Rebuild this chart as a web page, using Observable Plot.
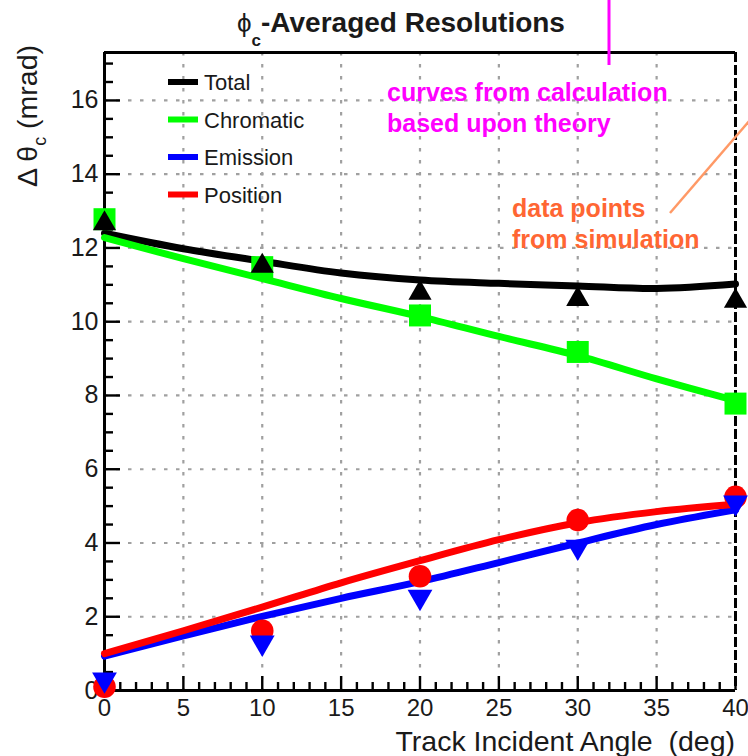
<!DOCTYPE html>
<html><head><meta charset="utf-8">
<script src="https://cdn.jsdelivr.net/npm/d3@7"></script>
<script src="https://cdn.jsdelivr.net/npm/@observablehq/plot@0.6"></script>
<style>body{margin:0;background:#fff}svg{overflow:visible}</style>
</head><body><div id="chart"></div>
<script>
// ---- data ----
const seriesNames = ["Total", "Chromatic", "Emission", "Position"];
const seriesColors = ["#000000", "#00ff00", "#0000ff", "#ff0000"];

// theory curves
const curveAngles = [0, 5, 10, 15, 20, 25, 30, 35, 40];
const totalCurve = [12.40, 11.98, 11.64, 11.32, 11.13, 11.04, 10.97, 10.90, 11.02];
const chromCurve = [12.28, 11.71, 11.17, 10.63, 10.14, 9.60, 9.08, 8.45, 7.86];
const emisCurve  = [0.93, 1.48, 2.01, 2.50, 2.95, 3.47, 4.00, 4.50, 4.90];
const posCurve   = [1.00, 1.62, 2.26, 2.92, 3.52, 4.09, 4.55, 4.85, 5.05];

// simulation points
const pointAngles = [0, 10, 20, 30, 40];
const totalPts = [12.75, 11.60, 10.87, 10.70, 10.65];
const chromPts = [12.78, 11.48, 10.17, 9.18, 7.78];
const emisPts  = [0.20, 1.20, 2.44, 3.80, 5.00];
const posPts   = [0.10, 1.62, 3.10, 4.62, 5.25];

// axes
const xTicks = [0, 5, 10, 15, 20, 25, 30, 35, 40];
const yTicks = [0, 2, 4, 6, 8, 10, 12, 14, 16];
const xDomain = [0, 40];
const yDomain = [0, 17.3];

// ---- build tables ----
const curveSets = [totalCurve, chromCurve, emisCurve, posCurve];
const curves = [];
curveSets.forEach((arr, i) => curveAngles.forEach((a, j) =>
  curves.push({series: seriesNames[i], angle: a, value: arr[j]})));
const pts = (arr) => pointAngles.map((a, j) => ({angle: a, value: arr[j]}));

// ---- geometry ----
const W = 748, H = 756;
const mL = 104, mR = 13, mT = 52, mB = 66;
const pxPerY = (H - mT - mB) / (yDomain[1] - yDomain[0]);
const pxPerX = (W - mL - mR) / (xDomain[1] - xDomain[0]);

// custom ROOT-like triangles (bbox-centred)
const triUp = {draw(ctx, size) {
  const a = Math.sqrt(4 * size / Math.sqrt(3)), h = a * Math.sqrt(3) / 2;
  ctx.moveTo(0, -h / 2); ctx.lineTo(a / 2, h / 2); ctx.lineTo(-a / 2, h / 2); ctx.closePath();
}};
const triDown = {draw(ctx, size) {
  const a = Math.sqrt(4 * size / Math.sqrt(3)), h = a * Math.sqrt(3) / 2;
  ctx.moveTo(0, h / 2); ctx.lineTo(a / 2, -h / 2); ctx.lineTo(-a / 2, -h / 2); ctx.closePath();
}};

const xMinor = d3.range(xDomain[0], xDomain[1] + 0.001, 1);
const yMinor = d3.range(0, 17.01, 0.5);
const gridX = xTicks.filter(d => d > 0 && d < 40);
const gridY = yTicks.filter(d => d > 0);

const font = "'Liberation Sans', Arial, Helvetica, sans-serif";

const chart = Plot.plot({
  width: W, height: H,
  marginLeft: mL, marginRight: mR, marginTop: mT, marginBottom: mB,
  style: {fontFamily: font, background: "#fff", overflow: "visible"},
  x: {domain: xDomain},
  y: {domain: yDomain},
  color: {domain: seriesNames, range: seriesColors},
  marks: [
    // grid
    Plot.ruleX(gridX, {stroke: "#a0a0a0", strokeWidth: 2.2, strokeDasharray: "3.5,8.5"}),
    Plot.ruleY(gridY, {stroke: "#a0a0a0", strokeWidth: 2.2, strokeDasharray: "3.5,8.5"}),
    // frame
    Plot.ruleY([yDomain[1]], {stroke: "#000", strokeWidth: 3}),
    Plot.ruleX([xDomain[1]], {stroke: "#000", strokeWidth: 3, strokeDasharray: "10,3"}),
    Plot.ruleX([xDomain[0]], {stroke: "#000", strokeWidth: 3}),
    Plot.ruleY([0], {stroke: "#000", strokeWidth: 3}),
    // inward ticks
    Plot.ruleX(xMinor, {x: d => d, y1: 0, y2: d => (d % 5 === 0 ? 14 : 8) / pxPerY, stroke: "#000", strokeWidth: 2.4}),
    Plot.ruleY(yMinor, {y: d => d, x1: 0, x2: d => (d % 2 === 0 ? 16 : 9) / pxPerX, stroke: "#000", strokeWidth: 2.4}),
    // axes labels
    Plot.axisX(xTicks, {tickSize: 0, tickPadding: 8, fontSize: 24, fill: "#1a1a1a", label: null}),
    Plot.axisY(yTicks, {tickSize: 0, tickPadding: 6, fontSize: 25, fill: "#1a1a1a", label: null}),
    // theory curves
    Plot.line(curves, {x: "angle", y: "value", z: "series", stroke: "series", strokeWidth: 7, curve: "catmull-rom"}),
    // simulation points
    Plot.dot(pts(chromPts), {x: "angle", y: "value", symbol: "square", r: 12.4, fill: seriesColors[1], stroke: "none"}),
    Plot.dot(pts(totalPts), {x: "angle", y: "value", symbol: triUp, r: 8.6, fill: seriesColors[0], stroke: "none"}),
    Plot.dot(pts(posPts), {x: "angle", y: "value", symbol: "circle", r: 11.3, fill: seriesColors[3], stroke: "none"}),
    Plot.dot(pts(emisPts), {x: "angle", y: "value", symbol: triDown, r: 9.2, fill: seriesColors[2], stroke: "none"})
  ]
});

document.getElementById("chart").appendChild(chart);
const svg = d3.select(chart);

// title
const t = svg.append("text").attr("x", 237).attr("y", 32).attr("text-anchor", "start")
  .attr("font-family", font).attr("fill", "#1a1a1a").style("white-space", "pre");
t.append("tspan").attr("font-size", 26).text("ϕ");
t.append("tspan").attr("font-size", 17).attr("font-weight", "bold").attr("dy", 14).text("c");
t.append("tspan").attr("font-size", 28).attr("font-weight", "bold").attr("dy", -14).text("-Averaged Resolutions");

// y label
const yl = svg.append("text").attr("transform", "translate(37,45) rotate(-90)")
  .attr("text-anchor", "end").attr("font-family", font).attr("fill", "#1a1a1a")
  .attr("font-size", 28.5).style("white-space", "pre");
yl.append("tspan").text("Δ θ");
yl.append("tspan").attr("font-size", 18).attr("dy", 9).text("c");
yl.append("tspan").attr("dy", -9).text(" (mrad)");

// x label
svg.append("text").attr("x", 735).attr("y", 751).attr("text-anchor", "end")
  .attr("font-family", font).attr("font-size", 28.5).attr("fill", "#1a1a1a")
  .style("white-space", "pre").text("Track Incident Angle  (deg)");

// legend
seriesNames.forEach((name, i) => {
  const y = 82 + i * 37.5;
  svg.append("line").attr("x1", 168).attr("x2", 198).attr("y1", y).attr("y2", y)
    .attr("stroke", seriesColors[i]).attr("stroke-width", 6);
  svg.append("text").attr("x", 204).attr("y", y + 8).attr("text-anchor", "start")
    .attr("font-family", font).attr("font-size", 22).attr("fill", "#1a1a1a").text(name);
});

// annotations
svg.append("line").attr("x1", 609).attr("x2", 609).attr("y1", 0).attr("y2", 65)
  .attr("stroke", "#ff00ff").attr("stroke-width", 3);
[["curves from calculation", 101], ["based upon theory", 132]].forEach(([s, y]) =>
  svg.append("text").attr("x", 387).attr("y", y).attr("text-anchor", "start")
    .attr("font-family", font).attr("font-size", 25).attr("font-weight", "bold")
    .attr("fill", "#ff00ff").text(s));
svg.append("line").attr("x1", 670).attr("y1", 213).attr("x2", 750).attr("y2", 120)
  .attr("stroke", "#ff9966").attr("stroke-width", 2.5);
[["data points", 217], ["from simulation", 248]].forEach(([s, y]) =>
  svg.append("text").attr("x", 512).attr("y", y).attr("text-anchor", "start")
    .attr("font-family", font).attr("font-size", 25).attr("font-weight", "bold")
    .attr("fill", "#ff6633").text(s));
</script>
</body></html>
